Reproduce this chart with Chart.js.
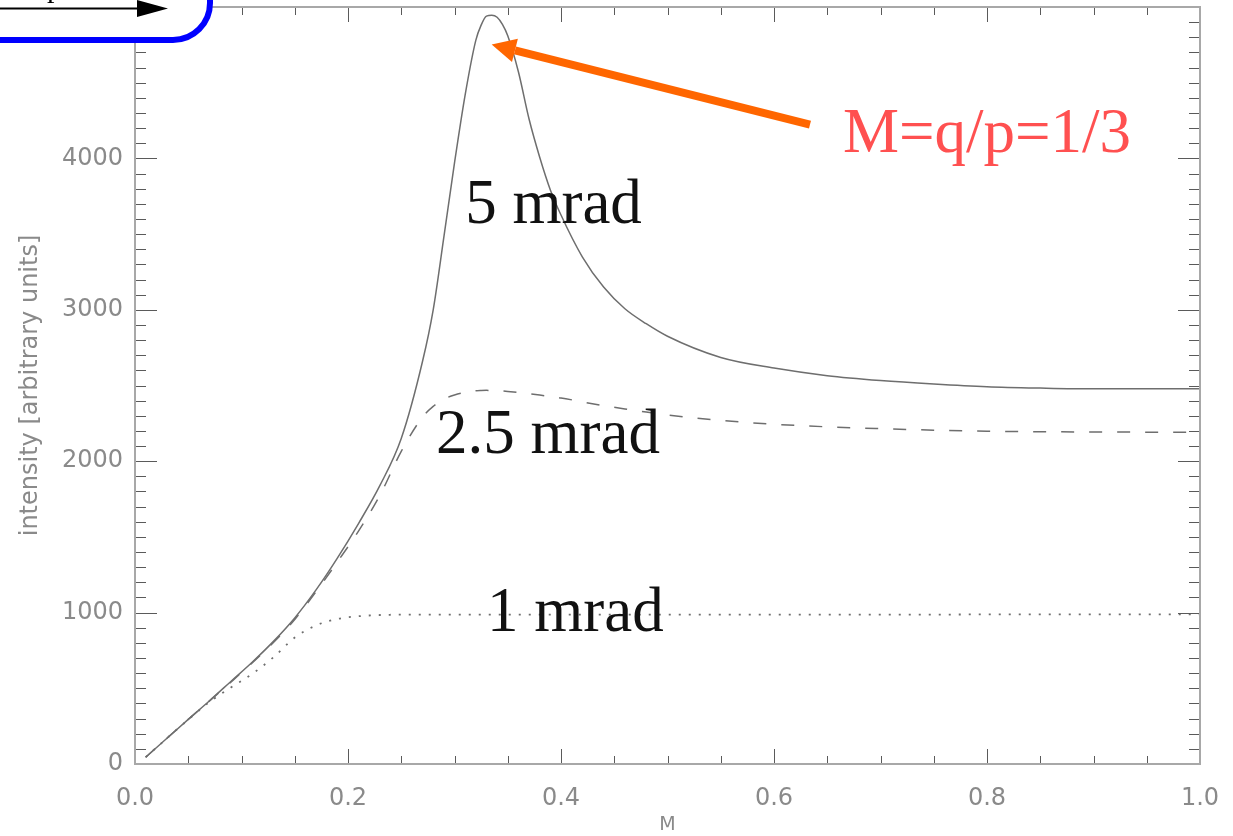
<!DOCTYPE html>
<html>
<head>
<meta charset="utf-8">
<script src="https://cdn.jsdelivr.net/npm/chart.js@4.4.1/dist/chart.umd.min.js"></script>
<style>
  html, body { margin: 0; padding: 0; background: #fff; }
  #chart { display: block; }
</style>
</head>
<body>
<canvas id="chart" width="1233" height="836"></canvas>
<script>
// M values (shared by the three curves)
const mValues = [0.01, 0.03, 0.05, 0.07, 0.09, 0.11, 0.13, 0.15, 0.17, 0.19, 0.21, 0.23, 0.25,
  0.27, 0.28, 0.29, 0.30, 0.31, 0.32, 0.325, 0.33, 0.335, 0.34, 0.345, 0.35, 0.36, 0.37, 0.38,
  0.39, 0.40, 0.42, 0.44, 0.46, 0.48, 0.50, 0.55, 0.60, 0.65, 0.70, 0.75, 0.80, 0.85, 0.90, 0.95, 1.00];

const mrad5 = [45, 170, 295, 418, 545, 672, 810, 965, 1150, 1360, 1590, 1840, 2150,
  2660, 3000, 3480, 3970, 4420, 4780, 4880, 4940, 4945, 4932, 4885, 4810, 4572, 4260, 4008,
  3792, 3626, 3350, 3150, 3007, 2908, 2825, 2685, 2615, 2565, 2533, 2510, 2492, 2483, 2478, 2478, 2478];

const mrad25 = [45, 170, 295, 417, 541, 668, 803, 955, 1138, 1335, 1540, 1775, 2065,
  2292, 2362, 2410, 2437, 2455, 2465, 2467, 2468, 2467, 2466, 2464, 2461, 2454, 2446, 2437,
  2427, 2418, 2392, 2367, 2345, 2325, 2305, 2270, 2244, 2227, 2215, 2205, 2198, 2195, 2193, 2192, 2192];

const mrad1 = [45, 170, 293, 410, 505, 595, 705, 835, 915, 958, 976, 984, 986,
  986, 986, 986, 986, 986, 986, 986, 986, 986, 986, 986, 986, 986, 986, 986,
  986, 986, 986, 986, 986, 986, 987, 987, 987, 987, 987, 987, 988, 988, 988, 988, 988];

const xTicks = [0, 0.2, 0.4, 0.6, 0.8, 1.0];
const yTicks = [0, 1000, 2000, 3000, 4000, 5000];

const curveColor = '#6e6e6e';
const axisText = '#8a8a8a';

function points(ys) {
  return mValues.map((m, i) => ({ x: m, y: ys[i] }));
}

// inward ticks on all four sides + frame, like the IDL plot
const frameTicks = {
  id: 'frameTicks',
  afterDatasetsDraw(chart) {
    const { ctx, chartArea: a, scales: { x, y } } = chart;
    ctx.save();
    ctx.strokeStyle = '#5a5a5a';
    ctx.lineWidth = 1;
    ctx.beginPath();
    for (let i = 0; i <= 20; i++) {
      const px = Math.round(x.getPixelForValue(i * 0.05)) + 0.5;
      const len = i % 4 === 0 ? 15 : 8;
      ctx.moveTo(px, a.bottom); ctx.lineTo(px, a.bottom - len);
      ctx.moveTo(px, a.top); ctx.lineTo(px, a.top + len);
    }
    for (let i = 0; i <= 50; i++) {
      const py = Math.round(y.getPixelForValue(i * 100)) + 0.5;
      const len = i % 10 === 0 ? 22 : 11;
      ctx.moveTo(a.left, py); ctx.lineTo(a.left + len, py);
      ctx.moveTo(a.right, py); ctx.lineTo(a.right - len, py);
    }
    ctx.stroke();
    ctx.strokeStyle = '#a8a8a8';
    ctx.lineWidth = 2;
    ctx.strokeRect(a.left, a.top, a.width, a.height);
    ctx.restore();
  }
};

// labels, arrows and the clipped box in the corner
const notes = {
  id: 'notes',
  afterDraw(chart) {
    const { ctx, scales: { x, y } } = chart;
    ctx.save();

    ctx.font = '63px "Liberation Serif", "Times New Roman", serif';
    ctx.textAlign = 'left';
    ctx.textBaseline = 'alphabetic';
    ctx.fillStyle = '#111';
    ctx.fillText('5 mrad', x.getPixelForValue(0.31), y.getPixelForValue(3575));
    ctx.fillText('2.5 mrad', x.getPixelForValue(0.2826), y.getPixelForValue(2055));
    ctx.fillText('1 mrad', x.getPixelForValue(0.3305), y.getPixelForValue(879));
    ctx.fillStyle = '#ff5050';
    ctx.fillText('M=q/p=1/3', x.getPixelForValue(0.6648), y.getPixelForValue(4045));

    // orange arrow
    const x0 = x.getPixelForValue(0.6338), y0 = y.getPixelForValue(4223);
    const x1 = x.getPixelForValue(0.3349), y1 = y.getPixelForValue(4752);
    const ang = Math.atan2(y1 - y0, x1 - x0);
    const headLen = 24, headW = 12;
    const bx = x1 - headLen * Math.cos(ang), by = y1 - headLen * Math.sin(ang);
    ctx.strokeStyle = '#ff6600';
    ctx.fillStyle = '#ff6600';
    ctx.lineWidth = 8;
    ctx.beginPath();
    ctx.moveTo(x0, y0);
    ctx.lineTo(bx, by);
    ctx.stroke();
    ctx.beginPath();
    ctx.moveTo(x1, y1);
    ctx.lineTo(bx + headW * Math.sin(ang), by - headW * Math.cos(ang));
    ctx.lineTo(bx - headW * Math.sin(ang), by + headW * Math.cos(ang));
    ctx.closePath();
    ctx.fill();

    // blue rounded box, mostly off the canvas
    ctx.beginPath();
    ctx.roundRect(-60, -60, 270, 100, 37);
    ctx.fillStyle = '#fff';
    ctx.fill();
    ctx.lineWidth = 6;
    ctx.strokeStyle = '#0000ff';
    ctx.stroke();

    ctx.fillStyle = '#000';
    ctx.font = '30px "Liberation Serif", serif';
    ctx.fillText('p', 47, -3);
    ctx.strokeStyle = '#000';
    ctx.lineWidth = 2;
    ctx.beginPath();
    ctx.moveTo(0, 8.5);
    ctx.lineTo(140, 8.5);
    ctx.stroke();
    ctx.beginPath();
    ctx.moveTo(168, 8.5);
    ctx.lineTo(137, 0);
    ctx.lineTo(137, 17);
    ctx.closePath();
    ctx.fill();

    ctx.restore();
  }
};

const ctx = document.getElementById('chart').getContext('2d');
new Chart(ctx, {
  type: 'line',
  data: {
    datasets: [
      { label: '5 mrad', data: points(mrad5), borderColor: curveColor, borderWidth: 1.5 },
      { label: '2.5 mrad', data: points(mrad25), borderColor: curveColor, borderWidth: 1.5, borderDash: [13, 15] },
      { label: '1 mrad', data: points(mrad1), borderColor: curveColor, borderWidth: 1.8, borderDash: [2, 8] }
    ]
  },
  options: {
    responsive: false,
    animation: false,
    devicePixelRatio: 1,
    layout: { padding: { top: 7, right: 33, left: 0, bottom: 0 } },
    elements: {
      point: { radius: 0 },
      line: { cubicInterpolationMode: 'monotone', fill: false }
    },
    plugins: { legend: { display: false }, tooltip: { enabled: false } },
    scales: {
      x: {
        type: 'linear',
        min: 0, max: 1,
        afterFit: s => { s.height = 72; s.paddingLeft = 0; s.paddingRight = 0; },
        afterBuildTicks: s => { s.ticks = xTicks.map(v => ({ value: v })); },
        grid: { display: false, drawTicks: false },
        border: { display: false },
        ticks: {
          padding: 20,
          color: axisText,
          font: { family: '"DejaVu Sans", sans-serif', size: 24 },
          callback: v => v.toFixed(1)
        },
        title: {
          display: true, text: 'M', color: axisText,
          font: { family: '"DejaVu Sans", sans-serif', size: 19, lineHeight: 1 },
          padding: { top: 0, bottom: 1 }
        }
      },
      y: {
        type: 'linear',
        min: 0, max: 5000,
        afterFit: s => { s.width = 135; s.paddingTop = 0; s.paddingBottom = 0; },
        afterBuildTicks: s => { s.ticks = yTicks.map(v => ({ value: v })); },
        grid: { display: false, drawTicks: false },
        border: { display: false },
        ticks: {
          padding: 12,
          color: axisText,
          font: { family: '"DejaVu Sans", sans-serif', size: 24 },
          callback: v => String(v)
        },
        title: {
          display: true, text: 'intensity [arbitrary units]', color: axisText,
          font: { family: '"DejaVu Sans", sans-serif', size: 24, lineHeight: 1.2 },
          padding: { top: 16, bottom: 0 }
        }
      }
    }
  },
  plugins: [frameTicks, notes]
});
</script>
</body>
</html>
